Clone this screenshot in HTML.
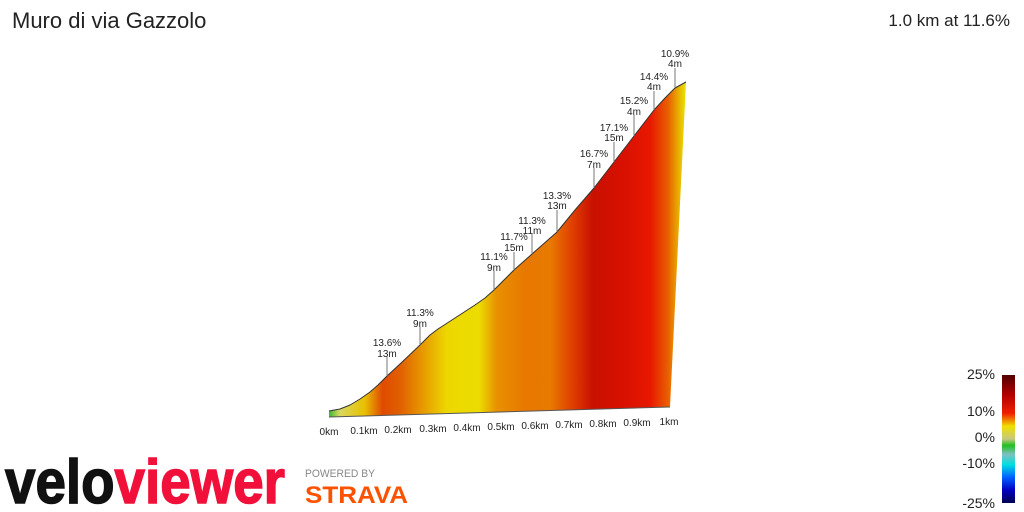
<!DOCTYPE html>
<html><head><meta charset="utf-8"><style>
html,body{margin:0;padding:0;background:#fff;width:1024px;height:512px;overflow:hidden}
svg{display:block}
</style></head><body>
<svg width="1024" height="512" viewBox="0 0 1024 512" xmlns="http://www.w3.org/2000/svg" font-family="Liberation Sans, sans-serif">
<defs>
<linearGradient id="g" gradientUnits="userSpaceOnUse" x1="329" y1="0" x2="686" y2="0">
<stop offset="0" stop-color="#3cb832"/>
<stop offset="0.03" stop-color="#d8d860"/>
<stop offset="0.1" stop-color="#e8c000"/>
<stop offset="0.15" stop-color="#e04a00"/>
<stop offset="0.2" stop-color="#e06000"/>
<stop offset="0.27" stop-color="#e8a000"/>
<stop offset="0.33" stop-color="#ecd800"/>
<stop offset="0.42" stop-color="#ecdc00"/>
<stop offset="0.47" stop-color="#e89000"/>
<stop offset="0.55" stop-color="#e87800"/>
<stop offset="0.62" stop-color="#e87a00"/>
<stop offset="0.68" stop-color="#e04000"/>
<stop offset="0.74" stop-color="#c81000"/>
<stop offset="0.82" stop-color="#d81000"/>
<stop offset="0.9" stop-color="#e81800"/>
<stop offset="0.95" stop-color="#e86000"/>
<stop offset="1" stop-color="#e8e800"/>
</linearGradient>
<linearGradient id="lg" x1="0" y1="0" x2="0" y2="1">
<stop offset="0" stop-color="#500000"/>
<stop offset="0.15" stop-color="#b00000"/>
<stop offset="0.3" stop-color="#f02000"/>
<stop offset="0.4" stop-color="#f0e000"/>
<stop offset="0.5" stop-color="#c8c880"/>
<stop offset="0.55" stop-color="#20c020"/>
<stop offset="0.62" stop-color="#80c0c0"/>
<stop offset="0.7" stop-color="#00e0e0"/>
<stop offset="0.8" stop-color="#0060ff"/>
<stop offset="0.9" stop-color="#0000c0"/>
<stop offset="1" stop-color="#000050"/>
</linearGradient>
</defs>
<text x="12" y="28" font-size="22" fill="#222">Muro di via Gazzolo</text>
<text x="1010" y="26" font-size="17" fill="#222" text-anchor="end">1.0 km at 11.6%</text>

<path d="M329,417 L670,407 L686,82 L675,88 665,98 654,110 634,136 614,162 594,188 575,210 557,232 532,254 514,270 494,290 485,298 475,305 455,318 438,329 430,335 420,345 400,364 387,376 378,385 370,392 360,399 350,405 340,409 329,411 Z" fill="url(#g)"/>
<path d="M329,411 L340,409 350,405 360,399 370,392 378,385 387,376 400,364 420,345 430,335 438,329 455,318 475,305 485,298 494,290 514,270 532,254 557,232 575,210 594,188 614,162 634,136 654,110 665,98 675,88 686,82" fill="none" stroke="#333" stroke-width="1" stroke-linejoin="round"/>
<path d="M329,417 L670,407" stroke="#555" stroke-width="1"/>

<g stroke="#777" stroke-width="1">
<line x1="387" y1="357" x2="387" y2="376"/>
<line x1="420" y1="327" x2="420" y2="345"/>
<line x1="494" y1="271" x2="494" y2="290"/>
<line x1="514" y1="252" x2="514" y2="270"/>
<line x1="532" y1="234" x2="532" y2="254"/>
<line x1="557" y1="210" x2="557" y2="232"/>
<line x1="594" y1="168" x2="594" y2="188"/>
<line x1="614" y1="142" x2="614" y2="162"/>
<line x1="634" y1="115" x2="634" y2="136"/>
<line x1="654" y1="91" x2="654" y2="110"/>
<line x1="675" y1="68" x2="675" y2="88"/>
</g>
<g font-size="10" fill="#222" text-anchor="middle">
<text x="387" y="346">13.6%</text><text x="387" y="357">13m</text>
<text x="420" y="316">11.3%</text><text x="420" y="327">9m</text>
<text x="494" y="260">11.1%</text><text x="494" y="271">9m</text>
<text x="514" y="240">11.7%</text><text x="514" y="251">15m</text>
<text x="532" y="224">11.3%</text><text x="532" y="234">11m</text>
<text x="557" y="199">13.3%</text><text x="557" y="209">13m</text>
<text x="594" y="157">16.7%</text><text x="594" y="168">7m</text>
<text x="614" y="131">17.1%</text><text x="614" y="141">15m</text>
<text x="634" y="104">15.2%</text><text x="634" y="115">4m</text>
<text x="654" y="80">14.4%</text><text x="654" y="90">4m</text>
<text x="675" y="57">10.9%</text><text x="675" y="67">4m</text>
</g>
<g font-size="10" fill="#222" text-anchor="middle">
<text x="329" y="435">0km</text>
<text x="364" y="434">0.1km</text>
<text x="398" y="433">0.2km</text>
<text x="433" y="432">0.3km</text>
<text x="467" y="431">0.4km</text>
<text x="501" y="430">0.5km</text>
<text x="535" y="429">0.6km</text>
<text x="569" y="428">0.7km</text>
<text x="603" y="427">0.8km</text>
<text x="637" y="426">0.9km</text>
<text x="669" y="425">1km</text>
</g>

<rect x="1002" y="375" width="13" height="128" fill="url(#lg)"/>
<g font-size="14" fill="#222" text-anchor="end">
<text x="995" y="379">25%</text>
<text x="995" y="416">10%</text>
<text x="995" y="442">0%</text>
<text x="995" y="468">-10%</text>
<text x="995" y="508">-25%</text>
</g>

<text x="5" y="503" font-size="62" font-weight="bold" textLength="280" lengthAdjust="spacingAndGlyphs" stroke-width="1.5"><tspan fill="#111" stroke="#111">velo</tspan><tspan fill="#f0103a" stroke="#f0103a">viewer</tspan></text>
<text x="305" y="477" font-size="11" fill="#888" textLength="70" lengthAdjust="spacingAndGlyphs">POWERED BY</text>
<text x="305" y="503" font-size="24" font-weight="bold" fill="#fc5200" textLength="103" lengthAdjust="spacingAndGlyphs">STRAVA</text>
</svg>
</body></html>
